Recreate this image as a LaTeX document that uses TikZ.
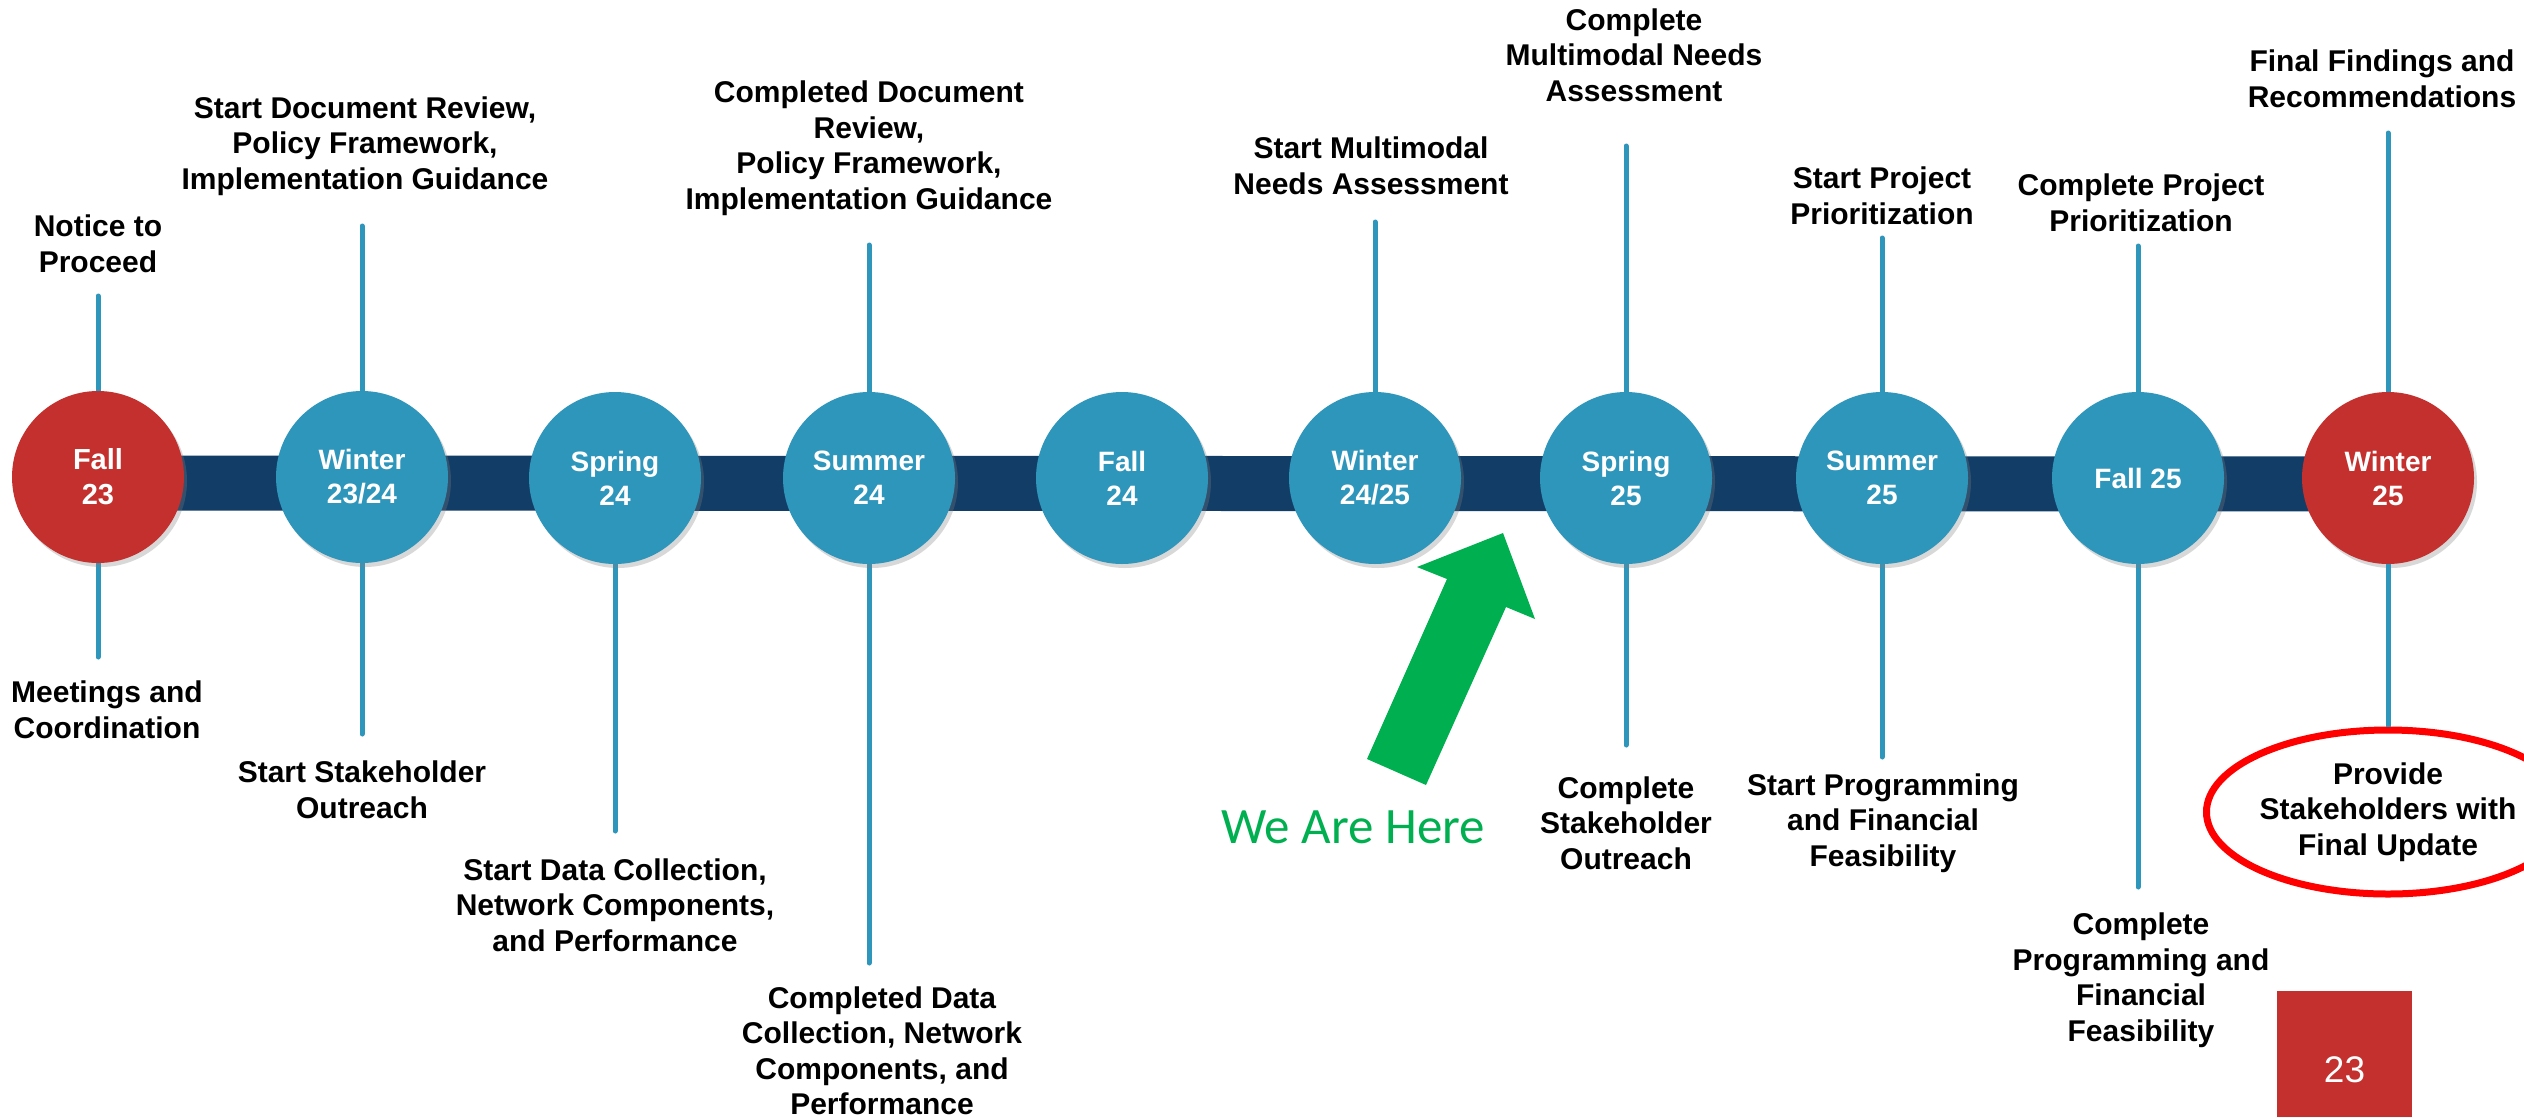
\documentclass[tikz,border=0pt]{standalone}
\usepackage{fontspec}
\setmainfont{Liberation Sans}
\newfontfamily\herefont{Carlito}
\usetikzlibrary{shapes.geometric,shadows,backgrounds}
\definecolor{teal}{RGB}{46,149,187}
\definecolor{navy}{RGB}{18,61,102}
\definecolor{tred}{RGB}{195,48,45}
\definecolor{hgreen}{RGB}{0,176,80}
\tikzset{
  season/.style={circle,minimum size=172pt,inner sep=0pt,fill=teal,text=white,align=center,
     font=\bfseries\fontsize{28}{34}\selectfont,
     drop shadow={opacity=0.3,shadow xshift=3pt,shadow yshift=-4pt}},
  redseason/.style={season,fill=tred},
  lbl/.style={align=center,font=\bfseries\fontsize{30}{35.5}\selectfont,inner sep=0pt},
  stem/.style={draw=teal,line width=5pt,line cap=round},
  bar/.style={draw=navy,line width=55pt}
}
\begin{document}
\begin{tikzpicture}[x=1pt,y=-1pt]
\begin{pgfonlayer}{background}
\fill[white] (0,0) rectangle (2524,1117);
\end{pgfonlayer}
\useasboundingbox (0,0) rectangle (2524,1117);
% season circles
\node[redseason,font=\bfseries\fontsize{29}{35}\selectfont] (c1) at (98,477) {Fall\\23};
\node[season] (c2) at (362,477) {Winter\\23/24};
\node[season] (c3) at (615,478) {Spring\\24};
\node[season] (c4) at (869,478) {Summer\\24};
\node[season] (c5) at (1122,478) {Fall\\24};
\node[season] (c6) at (1375,478) {Winter\\24/25};
\node[season] (c7) at (1626,478) {Spring\\25};
\node[season] (c8) at (1882,478) {Summer\\25};
\node[season] (c9) at (2138,478) {Fall 25};
\node[redseason] (c10) at (2388,478) {Winter\\25};
\begin{pgfonlayer}{background}
\draw[bar] ([yshift=-6pt]c1.center) -- ([yshift=-6pt]c10.center);
\end{pgfonlayer}
% labels
\node[lbl] (l1a) at (98,244) {Notice to\\Proceed};
\node[lbl] (l1b) at (107,710) {Meetings and\\Coordination};
\node[lbl] (l2a) at (365,146) {Start Document Review,\\Policy Framework,\\Implementation Guidance};
\node[lbl] (l2b) at (362,790) {Start Stakeholder\\Outreach};
\node[lbl] (l3b) at (615,905) {Start Data Collection,\\Network Components,\\and Performance};
\node[lbl] (l4a) at (869,148) {Completed Document\\Review,\\Policy Framework,\\Implementation Guidance};
\node[lbl] (l4b) at (882,1051) {Completed Data\\Collection, Network\\Components, and\\Performance};
\node[lbl] (l6a) at (1371,166) {Start Multimodal\\Needs Assessment};
\node[lbl] (l7a) at (1634,55) {Complete\\Multimodal Needs\\Assessment};
\node[lbl] (l7b) at (1626,823) {Complete\\Stakeholder\\Outreach};
\node[lbl] (l8a) at (1882,196) {Start Project\\Prioritization};
\node[lbl] (l8b) at (1883,823) {Start Programming\\and Financial\\Feasibility};
\node[lbl] (l9a) at (2141,203) {Complete Project\\Prioritization};
\node[lbl] (l9b) at (2141,980) {Complete\\Programming and\\Financial\\Feasibility};
\node[lbl] (l10a) at (2382,79) {Final Findings and\\Recommendations};
\node[lbl,draw=red,line width=7pt,ellipse,minimum width=258pt,minimum height=164pt] (prov) at (2388,812)
  {Provide\\Stakeholders with\\Final Update};
% stem end points
\coordinate (t1) at (98,296);  \coordinate (b1) at (98,657);
\coordinate (t2) at (362,226); \coordinate (b2) at (362,734);
\coordinate (b3) at (615,831);
\coordinate (t4) at (869,245); \coordinate (b4) at (869,963);
\coordinate (t6) at (1375,222);
\coordinate (t7) at (1626,146); \coordinate (b7) at (1626,745);
\coordinate (t8) at (1882,238); \coordinate (b8) at (1882,757);
\coordinate (t9) at (2138,246); \coordinate (b9) at (2138,887);
\coordinate (t10) at (2388,133);
\begin{pgfonlayer}{background}
\draw[stem] (t1) -- (c1.center) -- (b1);
\draw[stem] (t2) -- (c2.center) -- (b2);
\draw[stem] (c3.center) -- (b3);
\draw[stem] (t4) -- (c4.center) -- (b4);
\draw[stem] (t6) -- (c6.center);
\draw[stem] (t7) -- (c7.center) -- (b7);
\draw[stem] (t8) -- (c8.center) -- (b8);
\draw[stem] (t9) -- (c9.center) -- (b9);
\draw[stem] (t10) -- (c10.center);
\end{pgfonlayer}
\draw[stem,line cap=butt] (c10.south) -- (prov.north);
% We Are Here arrow
\fill[hgreen] (1503,533) -- (1535,619) -- (1506,607) -- (1426,785) -- (1367,759) -- (1447,579) -- (1417,567) -- cycle;
\node[text=hgreen,font=\herefont\fontsize{51}{60}\selectfont,inner sep=0pt,anchor=base] (here) at (1353,843) {We Are Here};
% page number
\node[fill=tred,minimum width=135pt,minimum height=126pt,inner sep=0pt] (pg) at (2344.5,1054) {};
\node[text=white,font=\fontsize{37}{40}\selectfont,inner sep=0pt] (pgn) at (2344.5,1070) {23};
\end{tikzpicture}
\end{document}
